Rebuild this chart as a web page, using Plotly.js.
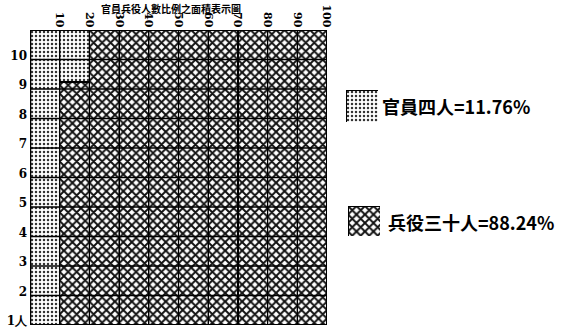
<!DOCTYPE html>
<html>
<head>
<meta charset="utf-8">
<script src="https://cdn.plot.ly/plotly-3.0.1.min.js"></script>
<style>
  html, body { margin: 0; padding: 0; background: #fff; }
  #chart { width: 571px; height: 329px; }
</style>
</head>
<body>
<div id="chart"></div>
<script>
'use strict'
/* Area chart: officials vs soldiers, each column = 10%, each row = 1% */

/* Data */
var colCenters = [5, 15, 25, 35, 45, 55, 65, 75, 85, 95];
var soldiers  = [0, 8.24, 10, 10, 10, 10, 10, 10, 10, 10];
var officials = [10, 1.76, 0, 0, 0, 0, 0, 0, 0, 0];
var xTickVals = [10, 20, 30, 40, 50, 60, 70, 80, 90, 100];
var xTickText = ['10', '20', '30', '40', '50', '60', '70', '80', '90', '100'];
var yTickVals = [0, 1, 2, 3, 4, 5, 6, 7, 8, 9];
var yTickText = ['1人', '2', '3', '4', '5', '6', '7', '8', '9', '10'];
var officialLabel = '官員四人=11.76%';
var soldierLabel = '兵役三十人=88.24%';
var topCaption = '官員兵役人數比例之面積表示圖';

/* Patterns */
var officialPattern = {shape: '.', size: 4, solidity: 0.3, fgcolor: '#333', bgcolor: '#fff'};
var soldierPattern = {shape: 'x', size: 6, solidity: 0.55, fgcolor: '#111', bgcolor: '#fff'};

var soldierTrace = {
    type: 'bar',
    name: soldierLabel,
    x: colCenters,
    y: soldiers,
    width: 10,
    showlegend: false,
    marker: {color: '#fff', pattern: soldierPattern, line: {color: '#000', width: 1.2}},
    hoverinfo: 'skip'
}

var officialTrace = {
    type: 'bar',
    name: officialLabel,
    x: colCenters,
    y: officials,
    width: 10,
    showlegend: false,
    marker: {color: '#fff', pattern: officialPattern, line: {color: '#000', width: 1.2}},
    hoverinfo: 'skip'
}

/* legend swatches drawn as single bars on small axes */
var officialKey = {
    type: 'bar', x: [0], y: [1], width: 1, xaxis: 'x2', yaxis: 'y2', showlegend: false,
    marker: {color: '#fff', pattern: officialPattern, line: {color: '#000', width: 1}},
    hoverinfo: 'skip'
}
var soldierKey = {
    type: 'bar', x: [0], y: [1], width: 1, xaxis: 'x3', yaxis: 'y3', showlegend: false,
    marker: {color: '#fff', pattern: soldierPattern, line: {color: '#000', width: 1}},
    hoverinfo: 'skip'
}

/* grid lines above the fill */
var shapes = [];
for (var i = 0; i <= 10; i++) {
    shapes.push({type: 'line', xref: 'x', yref: 'y', layer: 'above',
        x0: i * 10, x1: i * 10, y0: 0, y1: 10,
        line: {color: '#000', width: (i === 0) ? 2.5 : 1.3}});
    shapes.push({type: 'line', xref: 'x', yref: 'y', layer: 'above',
        x0: 0, x1: 100, y0: i, y1: i,
        line: {color: '#000', width: (i === 0) ? 2 : 1.3}});
}

var W = 571, H = 329;
function px(v) { return v / W; }
function py(v) { return 1 - v / H; }

var tickFont = {family: 'DejaVu Serif, Liberation Serif, serif', size: 12, color: '#000', weight: 'bold'};
var cjkFont = {family: 'Noto Sans CJK TC, Noto Sans CJK SC, sans-serif', size: 18, color: '#000', weight: 'bold'};

var layout = {
    width: W,
    height: H,
    margin: {l: 0, r: 0, t: 0, b: 0},
    paper_bgcolor: '#fff',
    plot_bgcolor: '#fff',
    barmode: 'stack',
    bargap: 0,
    showlegend: false,
    xaxis: {
        domain: [px(30), px(327)],
        range: [0, 100],
        side: 'top',
        tickvals: xTickVals,
        ticktext: xTickText,
        tickangle: 90,
        tickfont: {family: tickFont.family, size: 11, color: '#000', weight: 'bold'},
        ticks: '',
        ticklabeloverflow: 'allow',
        showgrid: false,
        zeroline: false,
        showline: false,
        fixedrange: true
    },
    yaxis: {
        domain: [py(325), py(30)],
        range: [0, 10],
        tickvals: yTickVals,
        ticktext: yTickText,
        tickfont: tickFont,
        ticks: '',
        ticklabelstandoff: 2,
        ticklabelshift: -4,
        ticklabeloverflow: 'allow',
        showgrid: false,
        zeroline: false,
        showline: false,
        fixedrange: true
    },
    xaxis2: {domain: [px(346), px(378)], range: [-0.5, 0.5], visible: false, fixedrange: true},
    yaxis2: {domain: [py(122), py(90)], range: [0, 1], visible: false, fixedrange: true},
    xaxis3: {domain: [px(348), px(380)], range: [-0.5, 0.5], visible: false, fixedrange: true},
    yaxis3: {domain: [py(236), py(206)], range: [0, 1], visible: false, fixedrange: true},
    shapes: shapes,
    annotations: [
        {xref: 'paper', yref: 'paper', x: px(380), y: py(106), xanchor: 'left', yanchor: 'middle',
         text: officialLabel, showarrow: false, font: cjkFont},
        {xref: 'paper', yref: 'paper', x: px(386), y: py(222), xanchor: 'left', yanchor: 'middle',
         text: soldierLabel, showarrow: false, font: cjkFont},
        {xref: 'paper', yref: 'paper', x: px(100), y: 1, xanchor: 'left', yanchor: 'top',
         text: topCaption, showarrow: false, borderpad: 0,
         font: {family: cjkFont.family, size: 10, color: '#000', weight: 'bold'}}
    ]
};

Plotly.newPlot('chart', [soldierTrace, officialTrace, officialKey, soldierKey], layout, {displayModeBar: false, staticPlot: true});
</script>
</body>
</html>
